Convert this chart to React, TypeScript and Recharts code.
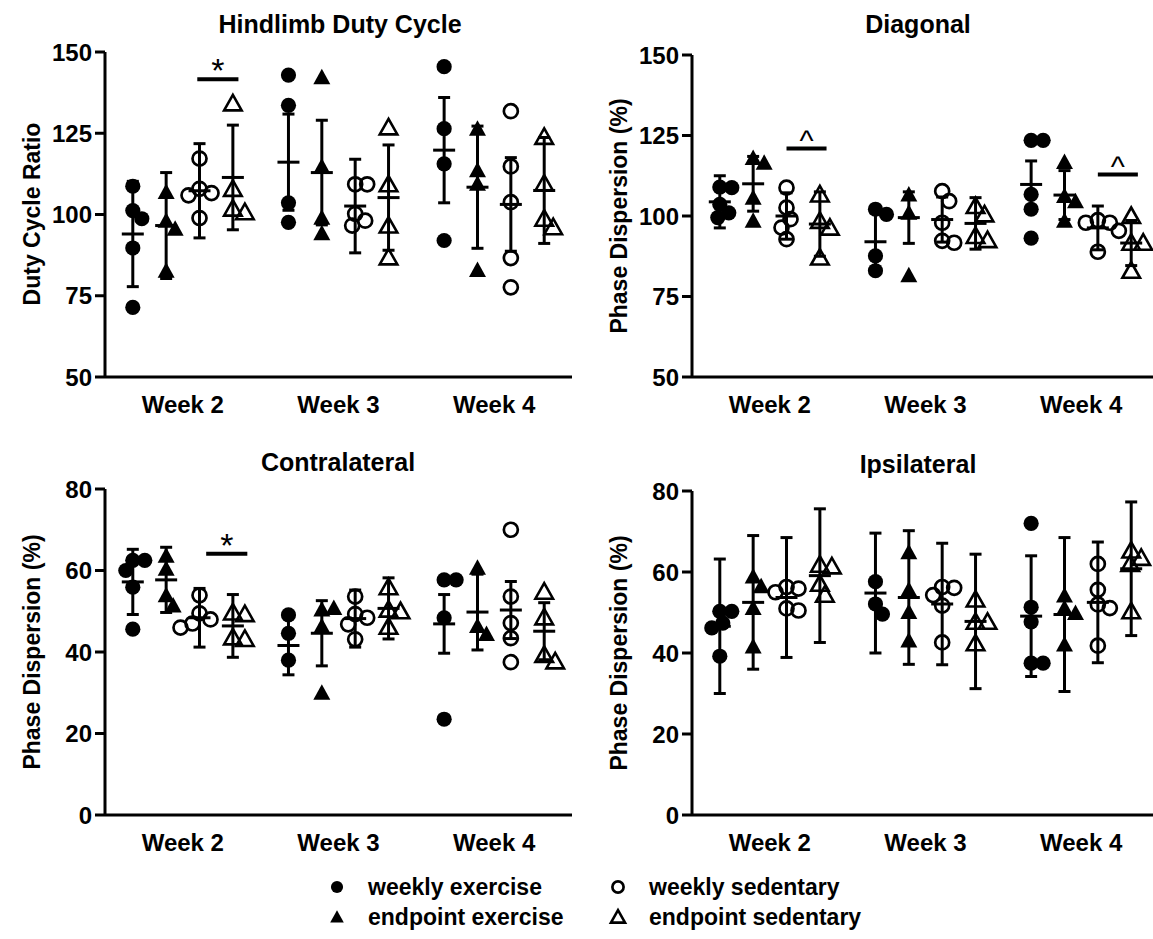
import React from 'react';
import { ScatterChart, Scatter, XAxis, YAxis, ErrorBar, ReferenceLine } from 'recharts';

// categories
const WEEKS = ['Week 2', 'Week 3', 'Week 4'];
const GROUPS = ['weekly exercise', 'endpoint exercise', 'weekly sedentary', 'endpoint sedentary'];

// Hindlimb duty cycle, one list per week
const dutyWeeklyEx = [[108.7, 101.2, 98.7, 89.7, 71.4], [142.9, 133.6, 103.6, 97.6], [145.5, 126.4, 115.6, 92.0]];
const dutyEndpointEx = [[106.9, 98.1, 95.6, 82.7], [142.2, 114.8, 99.0, 94.2], [126.4, 113.6, 109.5, 82.9]];
const dutyWeeklySed = [[117.2, 107.9, 106.6, 105.9, 98.9], [109.3, 109.3, 100.2, 98.1, 96.6], [131.8, 114.8, 103.8, 86.6, 77.6]];
const dutyEndpointSed = [[134.2, 107.9, 101.8, 100.7], [126.8, 109.3, 96.6, 86.8], [123.9, 109.5, 98.7, 96.1]];
const dutyMean = [[94.0, 96.6, 107.3, 111.4], [116.1, 112.9, 102.6, 105.2], [119.8, 108.4, 103.1, 107.4]];
const dutySd = [[16.2, 16.3, 14.5, 16.1], [14.8, 16.1, 14.4, 16.2], [16.2, 18.8, 14.4, 16.3]];
const dutySig = [{ from: 5.8, to: 9.5, y: 141.6, mark: '*' }];

// Diagonal
const diagWeeklyEx = [[109.0, 108.8, 103.6, 101.0, 99.5], [102.1, 100.5, 87.6, 83.0], [123.5, 123.5, 106.7, 102.1, 93.1]];
const diagEndpointEx = [[118.0, 116.5, 105.7, 98.5], [106.7, 101.0, 81.6], [116.8, 106.2, 104.6, 98.5]];
const diagWeeklySed = [[108.8, 102.6, 99.0, 96.4, 92.8], [107.7, 104.6, 97.9, 92.3, 91.7], [98.7, 97.9, 97.9, 95.4, 88.9]];
const diagEndpointSed = [[106.7, 98.5, 96.4, 87.1], [103.1, 100.5, 93.8, 92.5], [100.0, 91.7, 91.7, 83.0]];
const diagMean = [[104.4, 110.0, 100.0, 97.5], [92.0, 99.5, 98.9, 97.7], [109.8, 106.5, 96.3, 91.6]];
const diagSd = [[8.1, 8.5, 7.2, 10.0], [9.0, 8.0, 7.0, 8.0], [7.3, 7.6, 6.8, 7.0]];
const diagSig = [{ from: 6.0, to: 9.6, y: 121.0, mark: '^' }, { from: 34.0, to: 37.6, y: 112.9, mark: '^' }];

// Contralateral
const contraWeeklyEx = [[62.5, 62.5, 60.0, 55.9, 45.6], [49.1, 44.6, 38.0], [57.7, 57.7, 48.4, 23.5]];
const contraEndpointEx = [[63.6, 60.4, 53.9, 51.4], [50.4, 50.8, 46.3, 30.0], [60.7, 46.4, 44.4]];
const contraWeeklySed = [[53.9, 49.5, 48.0, 47.0, 46.0], [53.6, 49.3, 48.4, 46.8, 43.1], [70.0, 53.6, 47.1, 43.4, 37.5]];
const contraEndpointSed = [[49.7, 49.3, 43.6, 43.2], [55.9, 50.4, 50.0, 46.2], [54.8, 48.5, 39.3, 37.7]];
const contraMean = [[57.2, 57.7, 48.4, 46.4], [41.6, 44.6, 48.2, 50.7], [46.9, 49.8, 50.3, 45.1]];
const contraSd = [[8.0, 8.0, 7.2, 7.7], [7.2, 8.0, 7.0, 7.5], [7.2, 9.3, 7.0, 7.0]];
const contraSig = [{ from: 6.6, to: 10.3, y: 64.1, mark: '*' }];

// Ipsilateral
const ipsiWeeklyEx = [[50.3, 50.3, 47.4, 46.2, 39.2], [57.6, 52.1, 49.6], [72.0, 51.3, 47.7, 37.5, 37.5]];
const ipsiEndpointEx = [[58.9, 56.5, 51.1, 41.6], [64.9, 55.6, 50.1, 43.1], [54.2, 51.1, 49.9, 42.1]];
const ipsiWeeklySed = [[56.3, 55.9, 55.0, 51.0, 50.5], [56.3, 56.1, 54.3, 51.7, 42.6], [62.0, 55.6, 52.0, 51.1, 41.8]];
const ipsiEndpointSed = [[61.8, 61.4, 57.1, 54.4], [53.2, 47.7, 47.7, 42.4], [65.3, 63.5, 62.0, 50.3]];
const ipsiMean = [[46.6, 52.5, 53.7, 59.1], [54.8, 53.7, 52.1, 47.8], [49.1, 49.5, 52.5, 60.8]];
const ipsiSd = [[16.6, 16.5, 14.8, 16.5], [14.8, 16.5, 15.0, 16.6], [14.9, 19.0, 14.9, 16.5]];

const FONT = 'Arial, "Liberation Sans", Helvetica, sans-serif';
const WEEK_STEP = 14;
const GROUP_STEP = 3;
const X_MIN = -2.5;
const X_MAX = 39.5;
const PLOT_W = 467;
const X_PX = PLOT_W / (X_MAX - X_MIN);
const MIN_GAP = 12;

const groupX = (w: number, g: number) => w * WEEK_STEP + g * GROUP_STEP;

// simple beeswarm so overlapping points get pushed sideways
function swarm(values: number[], yPx: number) {
  const placed: { x: number; y: number }[] = [];
  return values.map((v) => {
    const py = v * yPx;
    let off = 0;
    for (let k = 0; k < 120; k++) {
      const cand = (k % 2 === 1 ? 1 : -1) * Math.ceil(k / 2);
      const hit = placed.some((p) => (cand - p.x) ** 2 + (py - p.y) ** 2 < MIN_GAP * MIN_GAP);
      if (!hit) { off = cand; break; }
    }
    placed.push({ x: off, y: py });
    return off / X_PX;
  });
}

function Marker({ cx, cy, kind, small }: { cx: number; cy: number; kind: number; small?: boolean }) {
  const s = small ? 0.8 : 1;
  if (kind === 0) return <circle cx={cx} cy={cy} r={7.6 * s} fill="#000" />;
  if (kind === 2) return <circle cx={cx} cy={cy} r={7 * s} fill="none" stroke="#000" strokeWidth={2.7} />;
  const h = 8.5 * s;
  const b = 7 * s;
  const hw = (kind === 1 ? 8.5 : 8.8) * s;
  const d = `M${cx},${cy - h} L${cx + hw},${cy + b} L${cx - hw},${cy + b} Z`;
  if (kind === 1) return <path d={d} fill="#000" />;
  return <path d={d} fill="none" stroke="#000" strokeWidth={2.6} strokeLinejoin="miter" />;
}

type Sig = { from: number; to: number; y: number; mark: string };

interface PanelProps {
  left: number;
  top: number;
  marginTop: number;
  plotH: number;
  domain: [number, number];
  ticks: number[];
  groups: number[][][];
  means: number[][];
  sds: number[][];
  sig: Sig[];
}

function Panel({ left, top, marginTop, plotH, domain, ticks, groups, means, sds, sig }: PanelProps) {
  const yPx = plotH / (domain[1] - domain[0]);
  const width = 105 + PLOT_W + 18;
  const height = marginTop + plotH + 50;
  const series = groups.map((weeks, g) =>
    weeks.flatMap((vals, w) => {
      const jit = swarm(vals, yPx);
      return vals.map((v, i) => ({ x: groupX(w, g) + jit[i], y: v }));
    })
  );
  const meanData = means.flatMap((row, w) => row.map((m, g) => ({ x: groupX(w, g), y: m, sd: sds[w][g] })));
  const tickStyle = { fill: '#000', fontSize: 24, fontWeight: 700, fontFamily: FONT };
  return (
    <div style={{ position: 'absolute', left, top }}>
      <ScatterChart width={width} height={height} margin={{ top: marginTop, right: 18, bottom: 0, left: 0 }}>
        <XAxis
          dataKey="x"
          type="number"
          domain={[X_MIN, X_MAX]}
          ticks={WEEKS.map((_, w) => groupX(w, 1.5))}
          tickFormatter={(v: number) => WEEKS[Math.round((v - 1.5 * GROUP_STEP) / WEEK_STEP)]}
          tickLine={false}
          tickMargin={13}
          height={50}
          axisLine={{ stroke: '#000', strokeWidth: 3 }}
          tick={tickStyle}
          allowDataOverflow
        />
        <YAxis
          dataKey="y"
          type="number"
          domain={domain}
          ticks={ticks}
          width={105}
          tickSize={10}
          tickMargin={3}
          axisLine={{ stroke: '#000', strokeWidth: 3 }}
          tickLine={{ stroke: '#000', strokeWidth: 3 }}
          tick={tickStyle}
          allowDataOverflow
        />
        {series.map((data, g) => (
          <Scatter
            key={GROUPS[g]}
            name={GROUPS[g]}
            data={data}
            isAnimationActive={false}
            shape={(p: any) => <Marker cx={p.cx} cy={p.cy} kind={g} />}
          />
        ))}
        <Scatter
          name="mean"
          data={meanData}
          isAnimationActive={false}
          shape={(p: any) => <line x1={p.cx - 11} x2={p.cx + 11} y1={p.cy} y2={p.cy} stroke="#000" strokeWidth={3} />}
        >
          <ErrorBar dataKey="sd" direction="y" width={6} strokeWidth={3} stroke="#000" isAnimationActive={false} />
        </Scatter>
        {sig.map((s, i) => (
          <ReferenceLine
            key={i}
            segment={[{ x: s.from, y: s.y }, { x: s.to, y: s.y }]}
            stroke="#000"
            strokeWidth={4}
            label={{
              value: s.mark,
              position: 'top',
              offset: -3,
              fill: '#000',
              fontSize: s.mark === '*' ? 34 : 30,
              fontFamily: FONT,
            }}
          />
        ))}
      </ScatterChart>
    </div>
  );
}

const textBase: React.CSSProperties = {
  position: 'absolute',
  fontFamily: FONT,
  fontWeight: 700,
  color: '#000',
  whiteSpace: 'nowrap',
  lineHeight: 1,
};

function Title({ x, y, text }: { x: number; y: number; text: string }) {
  return <div style={{ ...textBase, left: x, top: y, fontSize: 25, transform: 'translate(-50%, -50%)' }}>{text}</div>;
}

function YLabel({ x, y, text }: { x: number; y: number; text: string }) {
  return (
    <div style={{ ...textBase, left: x, top: y, fontSize: 23, transform: 'translate(-50%, -50%) rotate(-90deg)' }}>
      {text}
    </div>
  );
}

function LegendItem({ x, y, kind, text }: { x: number; y: number; kind: number; text: string }) {
  return (
    <>
      <svg style={{ position: 'absolute', left: x - 10, top: y - 10 }} width={20} height={20}>
        <Marker cx={10} cy={10} kind={kind} small />
      </svg>
      <div style={{ ...textBase, left: x + 31, top: y, fontSize: 23, transform: 'translateY(-50%)' }}>{text}</div>
    </>
  );
}

export default function App() {
  return (
    <div style={{ position: 'absolute', left: 0, top: 0, width: 1153, height: 939, overflow: 'hidden', background: '#fff' }}>
      <Panel
        left={0} top={0} marginTop={52} plotH={325}
        domain={[50, 150]} ticks={[50, 75, 100, 125, 150]}
        groups={[dutyWeeklyEx, dutyEndpointEx, dutyWeeklySed, dutyEndpointSed]}
        means={dutyMean} sds={dutySd} sig={dutySig}
      />
      <Panel
        left={587} top={0} marginTop={55} plotH={322}
        domain={[50, 150]} ticks={[50, 75, 100, 125, 150]}
        groups={[diagWeeklyEx, diagEndpointEx, diagWeeklySed, diagEndpointSed]}
        means={diagMean} sds={diagSd} sig={diagSig}
      />
      <Panel
        left={0} top={440} marginTop={49} plotH={326}
        domain={[0, 80]} ticks={[0, 20, 40, 60, 80]}
        groups={[contraWeeklyEx, contraEndpointEx, contraWeeklySed, contraEndpointSed]}
        means={contraMean} sds={contraSd} sig={contraSig}
      />
      <Panel
        left={587} top={440} marginTop={51} plotH={324}
        domain={[0, 80]} ticks={[0, 20, 40, 60, 80]}
        groups={[ipsiWeeklyEx, ipsiEndpointEx, ipsiWeeklySed, ipsiEndpointSed]}
        means={ipsiMean} sds={ipsiSd} sig={[]}
      />

      <Title x={340} y={24} text="Hindlimb Duty Cycle" />
      <Title x={918} y={24} text="Diagonal" />
      <Title x={338} y={462} text="Contralateral" />
      <Title x={918} y={464} text="Ipsilateral" />

      <YLabel x={32} y={214} text="Duty Cycle Ratio" />
      <YLabel x={619} y={216} text="Phase Dispersion (%)" />
      <YLabel x={32} y={652} text="Phase Dispersion (%)" />
      <YLabel x={619} y={653} text="Phase Dispersion (%)" />

      <LegendItem x={337} y={887} kind={0} text={GROUPS[0]} />
      <LegendItem x={618} y={887} kind={2} text={GROUPS[2]} />
      <LegendItem x={337} y={917} kind={1} text={GROUPS[1]} />
      <LegendItem x={618} y={917} kind={3} text={GROUPS[3]} />
    </div>
  );
}
